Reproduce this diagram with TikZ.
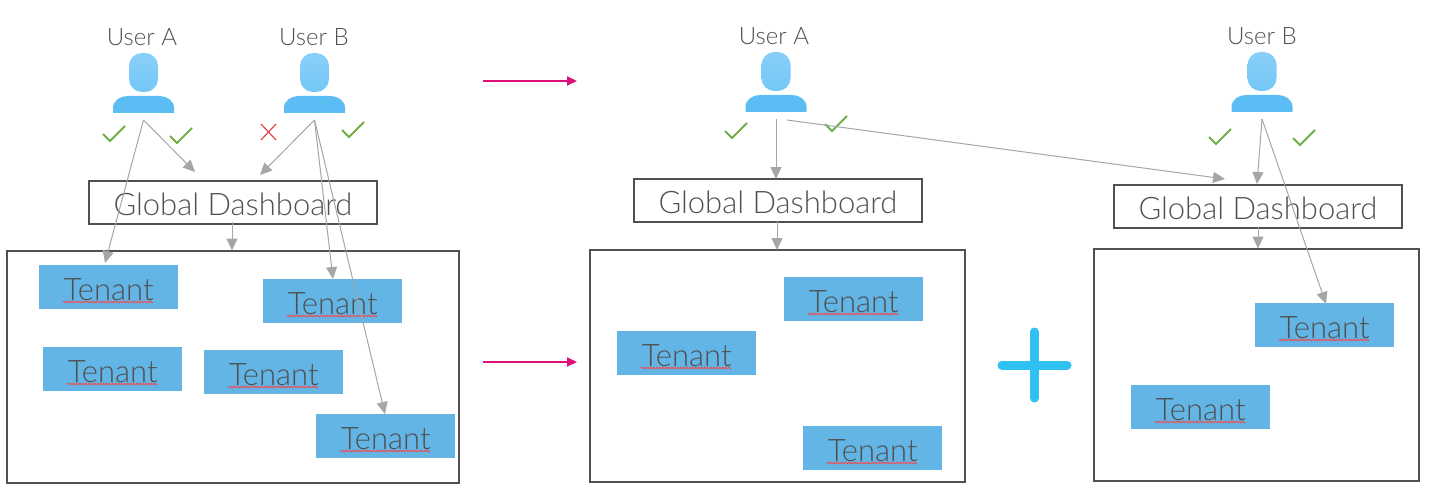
\documentclass[tikz,border=0pt]{standalone}
\usepackage{fontspec}
\setmainfont{Lato}[UprightFont=* Light]
\usetikzlibrary{arrows.meta,decorations.pathmorphing,calc}
\definecolor{gtxt}{HTML}{505050}
\definecolor{garr}{HTML}{A6A6A6}
\definecolor{tfill}{HTML}{62B5E5}
\definecolor{pink}{HTML}{E0107A}
\definecolor{chk}{HTML}{70AD47}
\definecolor{xred}{HTML}{E8414A}
\definecolor{pers}{HTML}{5CBDF5}
\definecolor{headc}{HTML}{74C7F7}
\definecolor{plusc}{HTML}{2FC1F2}
\tikzset{
 conn/.style={draw=garr,line width=1pt,-{Triangle[length=12pt,width=11pt]}},
 pinkarr/.style={draw=pink,line width=2pt,-{Triangle[length=10pt,width=9pt]}},
 userlbl/.style={text=gtxt,font=\fontsize{24}{24}\selectfont,inner sep=0pt},
 gdbox/.style={draw=gtxt,line width=2pt,fill=white,text=gtxt,minimum width=288pt,minimum height=43pt,inner sep=0pt,font=\fontsize{31}{31}\selectfont},
 bigbox/.style={draw=gtxt,line width=2pt,inner sep=0pt},
 tenant/.style={fill=tfill,text=gtxt,minimum width=139pt,minimum height=44pt,inner sep=0pt,font=\fontsize{31}{31}\selectfont},
 tick/.style={draw=chk,line width=2pt},
}
\newcommand{\pperson}[3]{% name, centre x, top y
 \shade[top color=headc!85!white,bottom color=headc,rounded corners=13pt] (#2-14.5,#3) rectangle (#2+14.5,#3+39);
 \fill[pers] (#2-30.5,#3+60) -- (#2-30.5,#3+55) to[out=90,in=180] (#2-16,#3+43) -- (#2+16,#3+43) to[out=0,in=90] (#2+30.5,#3+55) -- (#2+30.5,#3+60) -- cycle;
 \coordinate (#1) at (#2,#3+67);
}
\newcommand{\tick}[2]{\draw[tick] (#1,#2+8) -- (#1+7,#2+15) -- (#1+22,#2);}
\newcommand{\tenantn}[3]{% name, left, top
 \node[tenant,anchor=north west] (#1) at (#2,#3) {\raisebox{-13pt}[0pt][0pt]{Tenant}};
 \draw[red!75!white,line width=.7pt,decorate,decoration={zigzag,segment length=3pt,amplitude=.8pt}] (#2+24,#3+37) -- (#2+114,#3+37);
}
\newcommand{\gdtext}{\raisebox{-13pt}[0pt][0pt]{Global Dashboard}}
\begin{document}
\begin{tikzpicture}[x=1pt,y=-1pt]
\useasboundingbox (0,0) rectangle (1437,500);
% left
\node[userlbl] (la) at (142,37) {User A};
\node[userlbl] (lb) at (314,37) {User B};
\pperson{pa}{143.5}{53}
\pperson{pb}{314.5}{53}
\node[gdbox,anchor=north west] (g1) at (88,180) {\gdtext};
\node[bigbox,anchor=north west,minimum width=452pt,minimum height=232pt] (b1) at (5.5,249.5) {};
\tenantn{t1}{39}{265}
\tenantn{t2}{263}{279}
\tenantn{t3}{43}{347}
\tenantn{t4}{204}{350}
\tenantn{t5}{316}{414}
\tick{103}{126}
\tick{170}{128}
\tick{342}{122}
\draw[xred,line width=1.2pt] (261,124) -- (276,140) (276,124) -- (261,140);
\coordinate (e1) at (105,263);
\coordinate (e2) at (195,172);
\coordinate (e3) at (260,175);
\coordinate (e4) at (333,279);
\coordinate (e5) at (385,414);
\coordinate (e6) at (232,250.5);
\draw[conn] (pa) -- (e1);
\draw[conn] (pa) -- (e2);
\draw[conn] (pb) -- (e3);
\draw[conn] (pb) -- (e4);
\draw[conn] (pb) -- (e5);
\draw[conn] (232,222) -- (e6);
% pink
\coordinate (p1) at (483,81); \coordinate (p2) at (577,81);
\coordinate (p3) at (483,362); \coordinate (p4) at (577,362);
\draw[pinkarr] (p1) -- (p2);
\draw[pinkarr] (p3) -- (p4);
% middle
\node[userlbl] (ra) at (774,36) {User A};
\pperson{qa}{776}{52}
\node[gdbox,anchor=north west] (g2) at (633,178) {\gdtext};
\node[bigbox,anchor=north west,minimum width=375pt,minimum height=232.5pt] (b2) at (588.5,248.5) {};
\tenantn{t6}{784}{277}
\tenantn{t7}{617}{331}
\tenantn{t8}{803}{426}
\tick{725}{123}
\tick{825}{116}
% right
\node[userlbl] (rb) at (1262,36) {User B};
\pperson{qb}{1262}{52}
\node[gdbox,anchor=north west] (g3) at (1113,184) {\gdtext};
\node[bigbox,anchor=north west,minimum width=325pt,minimum height=232pt] (b3) at (1092.5,247.5) {};
\tenantn{t9}{1255}{303}
\tenantn{t10}{1131}{385}
\tick{1209}{129}
\tick{1293}{130}
\coordinate (qa2) at (787,120);
\coordinate (f1) at (776,179);
\coordinate (f2) at (1225,179);
\coordinate (f3) at (1257,184);
\coordinate (f4) at (1326,304);
\coordinate (f5) at (777,250);
\coordinate (f6) at (1258,248.5);
\draw[conn] (qa) -- (f1);
\draw[conn] (qa2) -- (f2);
\draw[conn] (qb) -- (f3);
\draw[conn] (qb) -- (f4);
\draw[conn] (777,221) -- (f5);
\draw[conn] (1258,227) -- (f6);
% plus
\draw[plusc,line width=9pt,line cap=round] (1002,365) -- (1067,365) (1034.5,332) -- (1034.5,398);
\end{tikzpicture}
\end{document}
